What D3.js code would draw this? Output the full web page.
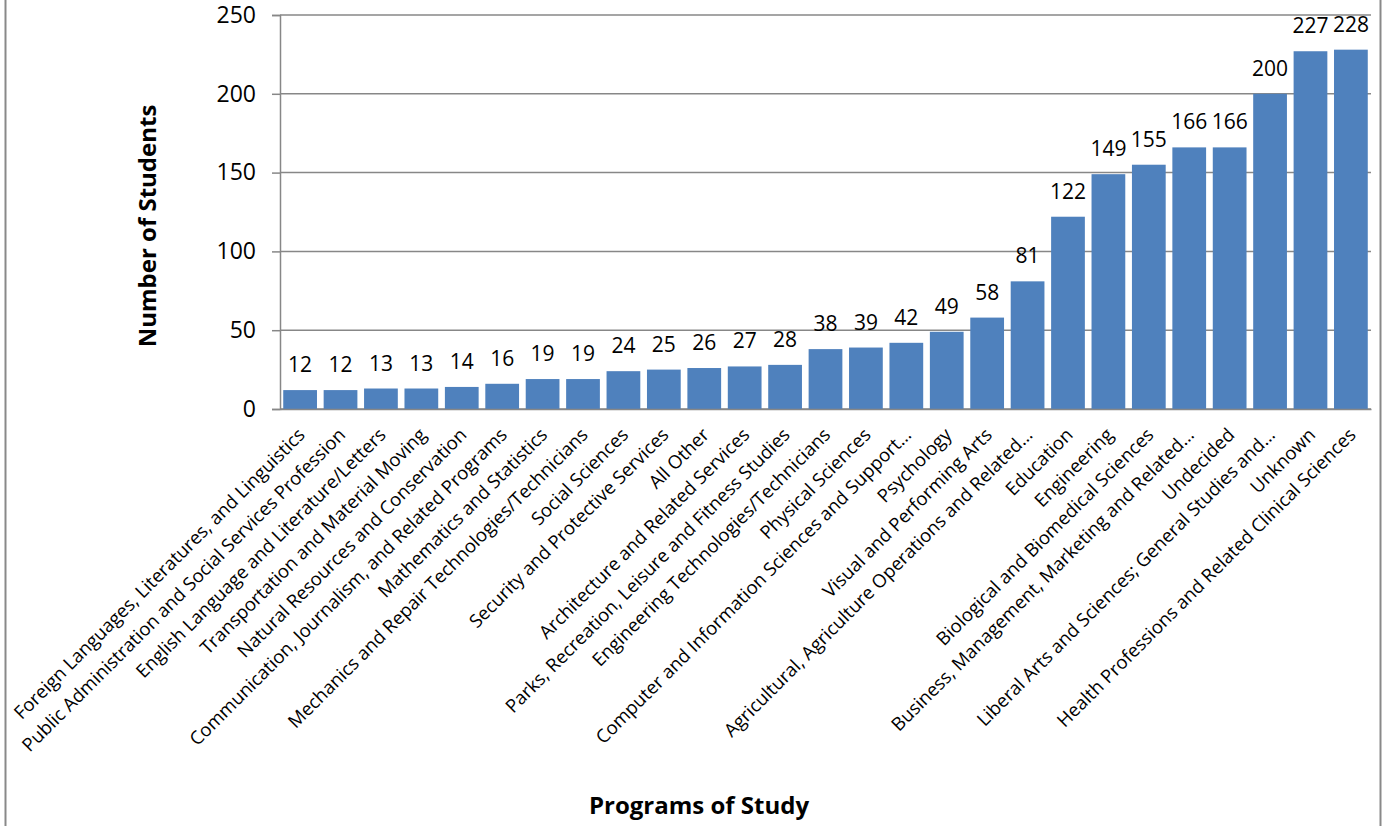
<!DOCTYPE html>
<html>
<head>
<meta charset="utf-8">
<script src="https://cdn.jsdelivr.net/npm/d3@7"></script>
<style>
  body { margin: 0; background: #fff; }
  text { font-family: "Open Sans", "Noto Sans", sans-serif; }
</style>
</head>
<body>
<script>
var programs = [
  "Foreign Languages, Literatures, and Linguistics",
  "Public Administration and Social Services Profession",
  "English Language and Literature/Letters",
  "Transportation and Material Moving",
  "Natural Resources and Conservation",
  "Communication, Journalism, and Related Programs",
  "Mathematics and Statistics",
  "Mechanics and Repair Technologies/Technicians",
  "Social Sciences",
  "Security and Protective Services",
  "All Other",
  "Architecture and Related Services",
  "Parks, Recreation, Leisure and Fitness Studies",
  "Engineering Technologies/Technicians",
  "Physical Sciences",
  "Computer and Information Sciences and Support\u2026",
  "Psychology",
  "Visual and Performing Arts",
  "Agricultural, Agriculture Operations and Related\u2026",
  "Education",
  "Engineering",
  "Biological and Biomedical Sciences",
  "Business, Management, Marketing and Related\u2026",
  "Undecided",
  "Liberal Arts and Sciences; General Studies and\u2026",
  "Unknown",
  "Health Professions and Related Clinical Sciences"
];
var students = [12, 12, 13, 13, 14, 16, 19, 19, 24, 25, 26, 27, 28, 38, 39, 42, 49, 58, 81, 122, 149, 155, 166, 166, 200, 227, 228];
var yTicks = [0, 50, 100, 150, 200, 250];

var width = 1388, height = 826;
var plot = {left: 280, right: 1371, top: 15, bottom: 409};

var svg = d3.select("body")
  .append("svg")
    .attr("width", width)
    .attr("height", height);

// chart frame (top and bottom fall outside the picture)
svg.append("rect")
    .attr("x", 5.5)
    .attr("y", -20)
    .attr("width", 1375)
    .attr("height", height + 40)
    .attr("fill", "none")
    .attr("stroke", "#898989")
    .attr("stroke-width", 2);

var x = d3.scaleBand()
    .domain(programs)
    .range([plot.left, plot.right])
    .paddingInner(0.165)
    .paddingOuter(0.08);

var y = d3.scaleLinear()
    .domain([0, 250])
    .range([plot.bottom, plot.top]);

// gridlines
svg.append("g")
  .selectAll("line")
    .data(yTicks)
  .enter().append("line")
    .attr("x1", plot.left)
    .attr("x2", plot.right)
    .attr("y1", function(d) { return y(d); })
    .attr("y2", function(d) { return y(d); })
    .attr("stroke", "#878787")
    .attr("stroke-width", 1.5);

// bars
svg.append("g")
  .selectAll("rect")
    .data(students)
  .enter().append("rect")
    .attr("x", function(d, i) { return x(programs[i]); })
    .attr("y", function(d) { return y(d); })
    .attr("width", x.bandwidth())
    .attr("height", function(d) { return y(0) - y(d); })
    .attr("fill", "#4F81BD");

// value labels
svg.append("g")
  .selectAll("text")
    .data(students)
  .enter().append("text")
    .attr("x", function(d, i) { return x(programs[i]) + x.bandwidth() / 2; })
    .attr("y", function(d) { return y(d) - 18; })
    .attr("text-anchor", "middle")
    .style("font-size", "21px")
    .attr("fill", "#000")
    .text(function(d) { return d; });

// y axis
var yAxis = svg.append("g")
    .attr("transform", "translate(" + plot.left + ",0)")
    .call(d3.axisLeft(y).tickValues(yTicks).tickSize(8).tickPadding(16));
yAxis.select(".domain").attr("stroke", "#878787").attr("stroke-width", 1.5);
yAxis.selectAll(".tick line").attr("stroke", "#878787").attr("stroke-width", 1.5);
yAxis.selectAll(".tick text")
    .attr("fill", "#000")
    .style("font-size", "23px")
    .style("font-family", "'Open Sans', sans-serif");

// x axis
var xAxis = svg.append("g")
    .attr("transform", "translate(0," + plot.bottom + ")")
    .call(d3.axisBottom(x).tickSize(0).tickSizeOuter(0));
xAxis.select(".domain").attr("stroke", "#878787").attr("stroke-width", 1.5);
xAxis.selectAll(".tick text")
    .attr("fill", "#000")
    .style("font-size", "18.5px")
    .style("font-family", "'Open Sans', sans-serif")
    .attr("text-anchor", "end")
    .attr("y", 0)
    .attr("dy", 0)
    .attr("transform", "translate(6,27) rotate(-45)");

// axis titles
svg.append("text")
    .attr("transform", "translate(156,226) rotate(-90)")
    .attr("text-anchor", "middle")
    .style("font-size", "24px")
    .style("font-weight", "bold")
    .text("Number of Students");

svg.append("text")
    .attr("x", 699)
    .attr("y", 814)
    .attr("text-anchor", "middle")
    .style("font-size", "24px")
    .style("font-weight", "bold")
    .text("Programs of Study");
</script>
</body>
</html>
